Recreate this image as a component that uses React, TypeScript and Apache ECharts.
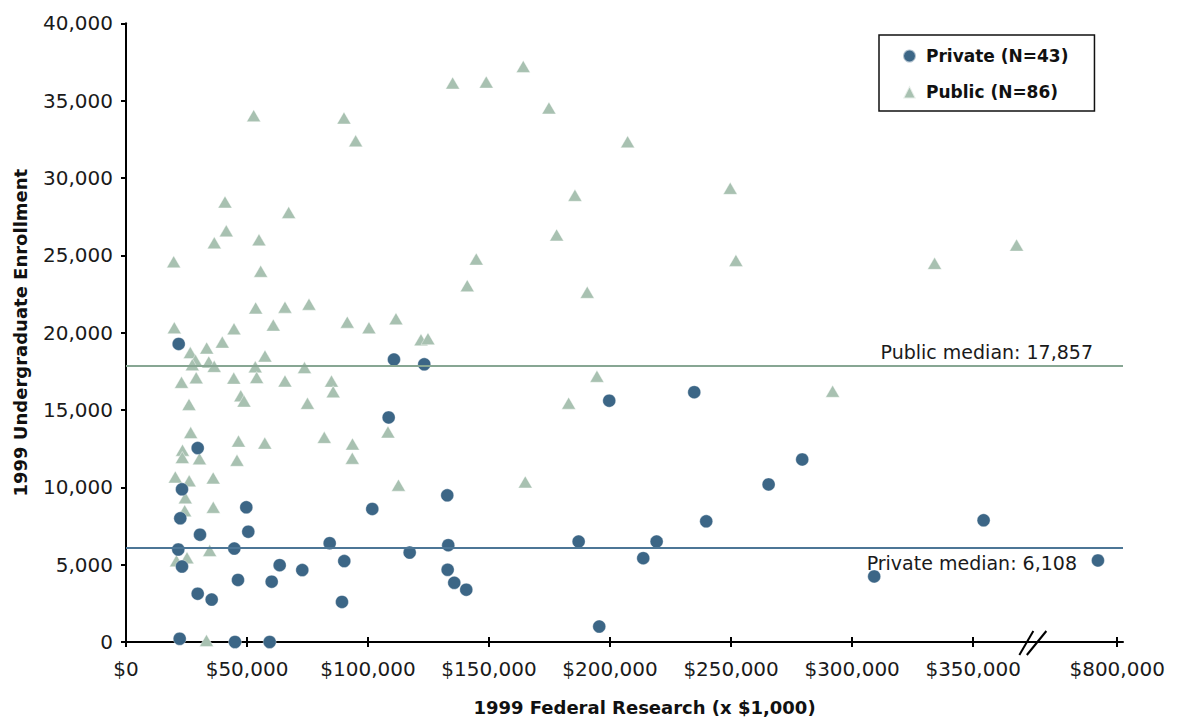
import React, { useEffect, useRef } from "react";
import * as echarts from "echarts";

// ---- Data (x in $1,000 of 1999 federal research, y = undergraduate enrollment) ----
const PRIVATE_X = [
  21770, 29620, 23130, 49700, 22430, 30570, 50520, 21600, 44740, 23130,
  63490, 72830, 46270, 60190, 29620, 35400, 22180, 45030, 59360, 110710,
  123230, 108520, 132730, 101750, 84150, 133140, 117200, 90180, 132890, 135620,
  140580, 89230, 234770, 199650, 265500, 239720, 187010, 219230, 213700, 195520,
  279380, 354320, 309120, 777000,
];
const PRIVATE_Y = [
  19270, 12540, 9870, 8710, 8000, 6940, 7130, 5980, 6040, 4880,
  4970, 4650, 4010, 3900, 3120, 2740, 210, 0, 0, 18260,
  17950, 14520, 9480, 8600, 6390, 6260, 5780, 5230, 4670, 3830,
  3380, 2590, 16150, 15600, 10190, 7800, 6490, 6490, 5420, 1000,
  11800, 7870, 4240, 5270,
];
const PUBLIC_X = [
  52750, 90060, 94890, 40900, 67210, 41430, 36480, 54940, 19700, 55650,
  53580, 65680, 75600, 19950, 44620, 60850, 91420, 100380, 111540, 39780,
  33340, 26560, 57420, 28710, 34200, 36440, 27390, 53410, 73740, 22930,
  29000, 44530, 53990, 65680, 47420, 48750, 26030, 74980, 26730, 46470,
  57340, 23340, 23260, 30360, 45850, 20370, 26110, 36020, 24500, 24250,
  36060, 34580, 20860, 25200, 33250, 81920, 84890, 85590, 93570, 93490,
  108230, 112570, 140990, 121870, 124760, 134960, 148840, 164130, 174740, 207250,
  185480, 249640, 177920, 144710, 190560, 251990, 194570, 182880, 164950, 334070,
  367950, 291940,
];
const PUBLIC_Y = [
  34030, 33880, 32400, 28450, 27770, 26580, 25810, 26000, 24580, 23970,
  21600, 21650, 21840, 20320, 20250, 20490, 20680, 20320, 20900, 19390,
  19010, 18710, 18490, 18210, 18110, 17820, 17930, 17790, 17740, 16790,
  17080, 17060, 17100, 16880, 15920, 15580, 15360, 15430, 13540, 12990,
  12860, 12400, 11930, 11850, 11750, 10670, 10420, 10610, 9320, 8490,
  8710, 5920, 5250, 5440, 100, 13230, 16870, 16180, 12800, 11880,
  13580, 10140, 23040, 19540, 19610, 36140, 36200, 37210, 34530, 32340,
  28880, 29330, 26320, 24760, 22610, 24670, 17180, 15440, 10350, 24480,
  25660, 16210,
];
const PUBLIC_MEDIAN = 17857;
const PRIVATE_MEDIAN = 6108;
const SERIES_NAMES = ["Private (N=43)", "Public (N=86)"];
const MEDIAN_LABELS = ["Public median: 17,857", "Private median: 6,108"];
const X_TICK_VALUES = [0, 50000, 100000, 150000, 200000, 250000, 300000, 350000, 800000];
const X_TICK_LABELS = [
  "$0", "$50,000", "$100,000", "$150,000", "$200,000",
  "$250,000", "$300,000", "$350,000", "$800,000",
];
const Y_MIN = 0;
const Y_MAX = 40000;
const Y_INTERVAL = 5000;

// ---- Broken x axis: values above the break are compressed ----
const BREAK_AT = 375000; // axis position of the break
const UPPER_START = 700000; // real value mapped to the break
const UPPER_SCALE = 0.345; // compression of the upper segment
const toAxis = (x: number) =>
  x <= BREAK_AT ? x : BREAK_AT + (x - UPPER_START) * UPPER_SCALE;
const X_AXIS_MAX = toAxis(807000);

const FONT = "DejaVu Sans";
const PRIVATE_COLOR = "#3c6686";
const PUBLIC_COLOR = "#a8c1b1";
const PRIVATE_LINE = "#4c7696";
const PUBLIC_LINE = "#87a693";

export default function App() {
  const ref = useRef<HTMLDivElement>(null);

  useEffect(() => {
    if (!ref.current) return;
    const chart = echarts.init(ref.current, undefined, { renderer: "svg" });
    const tickAxisValues = X_TICK_VALUES.map(toAxis);
    const fmtX = (v: number) => {
      const i = tickAxisValues.findIndex((t) => Math.abs(t - v) < 1);
      return i >= 0 ? X_TICK_LABELS[i] : "";
    };

    const option: any = {
      animation: false,
      backgroundColor: "#ffffff",
      grid: { left: 126, right: 55, top: 23.3, bottom: 76.5, containLabel: false },
      legend: {
        orient: "vertical",
        left: 879,
        top: 35,
        padding: [11, 26, 9, 23],
        borderColor: "#111",
        borderWidth: 1.5,
        itemWidth: 13,
        itemHeight: 13,
        itemGap: 16,
        data: SERIES_NAMES,
        textStyle: {
          fontFamily: FONT,
          fontWeight: "bold",
          fontSize: 17,
          color: "#111",
          lineHeight: 20,
          padding: [0, 0, 0, 5],
        },
      },
      xAxis: [
        {
          type: "value",
          min: 0,
          max: X_AXIS_MAX,
          position: "bottom",
          name: "1999 Federal Research (x $1,000)",
          nameLocation: "middle",
          nameGap: 56,
          nameTextStyle: {
            fontFamily: FONT,
            fontWeight: "bold",
            fontSize: 18,
            color: "#111",
            padding: [0, 0, 0, 40],
          },
          axisLine: { show: true, lineStyle: { color: "#000", width: 2 } },
          axisTick: {
            show: true,
            length: 5,
            lineStyle: { color: "#000", width: 2 },
            customValues: tickAxisValues,
          },
          axisLabel: {
            show: true,
            customValues: tickAxisValues,
            formatter: fmtX,
            margin: 17,
            fontFamily: FONT,
            fontSize: 20,
            color: "#1a1a1a",
          },
          splitLine: { show: false },
        },
        {
          type: "value",
          min: 0,
          max: X_AXIS_MAX,
          position: "bottom",
          axisLine: { show: false },
          axisTick: {
            show: true,
            inside: true,
            length: 5,
            lineStyle: { color: "#000", width: 2 },
            customValues: tickAxisValues.slice(1),
          },
          axisLabel: { show: false },
          splitLine: { show: false },
        },
      ],
      yAxis: {
        type: "value",
        min: Y_MIN,
        max: Y_MAX,
        interval: Y_INTERVAL,
        name: "1999 Undergraduate Enrollment",
        nameLocation: "middle",
        nameGap: 97,
        nameTextStyle: {
          fontFamily: FONT,
          fontWeight: "bold",
          fontSize: 18,
          color: "#111",
        },
        axisLine: { show: true, lineStyle: { color: "#000", width: 2 } },
        axisTick: { show: true, length: 5, lineStyle: { color: "#000", width: 2 } },
        axisLabel: {
          margin: 13,
          fontFamily: FONT,
          fontSize: 20,
          color: "#1a1a1a",
          formatter: (v: number) => v.toLocaleString("en-US"),
        },
        splitLine: { show: false },
      },
      series: [
        {
          type: "scatter",
          name: SERIES_NAMES[1],
          symbol: "triangle",
          symbolSize: [14, 12],
          xAxisIndex: 0,
          data: PUBLIC_X.map((x, i) => [toAxis(x), PUBLIC_Y[i]]),
          itemStyle: {
            color: PUBLIC_COLOR,
            borderColor: "rgba(255,255,255,0.7)",
            borderWidth: 0.6,
            opacity: 1,
          },
          markLine: {
            silent: true,
            symbol: ["none", "none"],
            lineStyle: { color: PUBLIC_LINE, width: 2, type: "solid" },
            label: {
              show: true,
              position: "insideEndTop",
              distance: [30, 4],
              formatter: MEDIAN_LABELS[0],
              fontFamily: FONT,
              fontSize: 19,
              color: "#1a1a1a",
            },
            data: [{ yAxis: PUBLIC_MEDIAN }],
          },
          z: 2,
        },
        {
          type: "scatter",
          name: SERIES_NAMES[0],
          symbol: "circle",
          symbolSize: 13,
          xAxisIndex: 0,
          data: PRIVATE_X.map((x, i) => [toAxis(x), PRIVATE_Y[i]]),
          itemStyle: {
            color: PRIVATE_COLOR,
            borderColor: "rgba(255,255,255,0.6)",
            borderWidth: 0.6,
            opacity: 1,
          },
          markLine: {
            silent: true,
            symbol: ["none", "none"],
            lineStyle: { color: PRIVATE_LINE, width: 2, type: "solid" },
            label: {
              show: true,
              position: "insideEndBottom",
              distance: [46, 6],
              formatter: MEDIAN_LABELS[1],
              fontFamily: FONT,
              fontSize: 19,
              color: "#1a1a1a",
            },
            data: [{ yAxis: PRIVATE_MEDIAN }],
          },
          z: 3,
        },
      ],
    };
    chart.setOption(option);

    // axis break marks "//" placed through the axis scale
    const p = chart.convertToPixel({ xAxisIndex: 0, yAxisIndex: 0 } as any, [
      BREAK_AT + 700,
      0,
    ]) as number[];
    if (p && isFinite(p[0])) {
      const cx = p[0];
      const cy = p[1];
      chart.setOption({
        graphic: [
          {
            type: "line",
            shape: { x1: cx - 2, y1: cy - 11, x2: cx - 16, y2: cy + 13 },
            style: { stroke: "#000", lineWidth: 2 },
            z: 100,
          },
          {
            type: "line",
            shape: { x1: cx + 11, y1: cy - 11, x2: cx - 8.5, y2: cy + 13 },
            style: { stroke: "#000", lineWidth: 2 },
            z: 100,
          },
        ],
      });
    }

    return () => chart.dispose();
  }, []);

  return (
    <div
      ref={ref}
      style={{ position: "fixed", left: 0, top: 0, width: 1178, height: 721, background: "#fff" }}
    />
  );
}
